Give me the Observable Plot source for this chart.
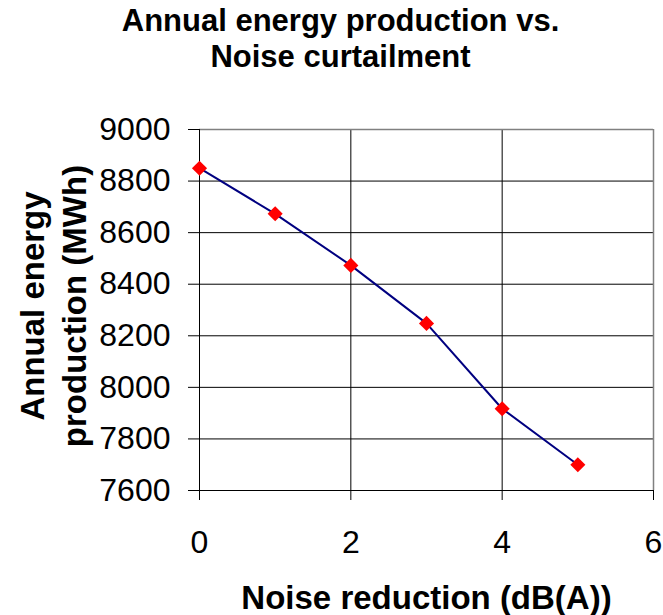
<!DOCTYPE html>
<html>
<head>
<meta charset="utf-8">
<script src="https://cdn.jsdelivr.net/npm/d3@7"></script>
<script src="https://cdn.jsdelivr.net/npm/@observablehq/plot@0.6"></script>
<style>
  html, body { margin: 0; padding: 0; background: #ffffff; }
</style>
</head>
<body>
<div id="chart"></div>
<script>
// Noise reduction steps (dB(A)) and the resulting annual energy production (MWh)
const reduction = [0, 1, 2, 3, 4, 5];
const energy = [8850, 8673, 8473, 8248, 7917, 7700];

// Axis ticks
const xTicks = [0, 2, 4, 6];
const yTicks = [7600, 7800, 8000, 8200, 8400, 8600, 8800, 9000];

// Texts
const titleText = "Annual energy production vs.\nNoise curtailment";
const xLabel = "Noise reduction (dB(A))";
const yLabel = "Annual energy\nproduction (MWh)";

const font = "'Liberation Sans', Arial, Helvetica, sans-serif";
const rows = reduction.map((r, i) => ({reduction: r, energy: energy[i]}));
const xMin = d3.min(xTicks), xMax = d3.max(xTicks);
const yMin = d3.min(yTicks), yMax = d3.max(yTicks);

const chart = Plot.plot({
  width: 663,
  height: 615,
  marginTop: 129,
  marginBottom: 125,
  marginLeft: 199,
  marginRight: 10,
  style: {fontFamily: font, fontSize: "32px", color: "#000", background: "#fff"},
  x: {domain: [xMin, xMax], ticks: xTicks, tickFormat: d => String(d), tickSize: 10, tickPadding: 30, label: null},
  y: {domain: [yMin, yMax], ticks: yTicks, tickFormat: d => String(d), tickSize: 11, tickPadding: 18, label: null},
  marks: [
    // interior grid
    Plot.ruleY(yTicks.filter(v => v !== yMin && v !== yMax), {stroke: "#000", strokeWidth: 1}),
    Plot.ruleX(xTicks.filter(v => v !== xMin && v !== xMax), {stroke: "#000", strokeWidth: 1}),
    // plot area border (top / right)
    Plot.ruleY([yMax], {stroke: "#808080", strokeWidth: 1.5}),
    Plot.ruleX([xMax], {stroke: "#808080", strokeWidth: 1.5}),
    // axis lines
    Plot.ruleX([xMin], {stroke: "#000", strokeWidth: 1}),
    Plot.ruleY([yMin], {stroke: "#000", strokeWidth: 1}),
    // series
    Plot.line(rows, {x: "reduction", y: "energy", stroke: "#000080", strokeWidth: 2}),
    Plot.dot(rows, {x: "reduction", y: "energy", symbol: "diamond2", r: 6.8, fill: "#ff0000", stroke: "none"}),
    // title
    Plot.text([titleText], {text: d => d, frameAnchor: "top-left", dx: 141, dy: -63, textAnchor: "middle",
      lineAnchor: "bottom", lineHeight: 1.13, fontSize: 31, fontWeight: "bold", fill: "#000"}),
    // x axis label
    Plot.text([xLabel], {text: d => d, frameAnchor: "bottom", dy: 118, lineAnchor: "bottom",
      fontSize: 33, fontWeight: "bold", fill: "#000"}),
    // y axis label
    Plot.text([yLabel], {text: d => d, frameAnchor: "left", dx: -114, dy: -4, rotate: -90, textAnchor: "middle",
      lineAnchor: "bottom", lineHeight: 1.27, fontSize: 33, fontWeight: "bold", fill: "#000"})
  ]
});

document.getElementById("chart").appendChild(chart);
</script>
</body>
</html>
